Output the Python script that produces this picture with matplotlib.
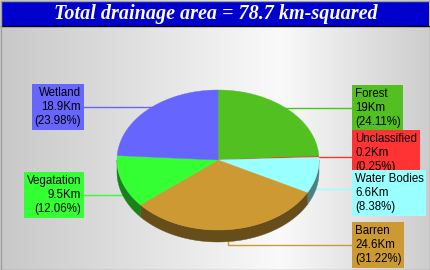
import numpy as np
import matplotlib.pyplot as plt
from matplotlib.patches import Polygon, Rectangle

# data
names = ["Forest", "Unclassified", "Water Bodies", "Barren", "Vegatation", "Wetland"]
values = [19, 0.2, 6.6, 24.6, 9.5, 18.9]
colors = ["#52c021", "#ff3333", "#99ffff", "#cc9933", "#33ff33", "#6666ff"]
title = "Total drainage area = 78.7 km-squared"

# layout (pixel coords)
W, H = 430, 270
cx, cy, rx, ry, depth = 218, 160, 101, 70, 12
# box anchor (x, center y), side, connector y
label_pos = {
    "Forest": (355, 108, "r", 108),
    "Unclassified": (355, 153, "r", 157),
    "Water Bodies": (355, 193, "r", 189),
    "Barren": (355, 245, "r", 245),
    "Vegatation": (81, 195, "l", 195),
    "Wetland": (81, 107, "l", 107),
}

fig = plt.figure(figsize=(W / 100, H / 100), dpi=100)
ax = fig.add_axes([0, 0, 1, 1])
ax.set_xlim(0, W)
ax.set_ylim(H, 0)
ax.axis("off")

# background gradient
xs = np.linspace(0, W, 431)
g = np.interp(xs, [0, 280, W], [200, 250, 205]) / 255.0
img = np.tile(g, (2, 1))
ax.imshow(np.dstack([img, img, img]), extent=(0, W, H, 0), aspect="auto", zorder=0)
ax.add_patch(Rectangle((0.5, 0.5), W - 1, H - 1, fill=False, ec="#a0a0a0", lw=1, zorder=10))

# title bar
ax.add_patch(Rectangle((1, 1), W - 2, 24.5, fc="#0000cc", ec="none", zorder=5))
ax.plot([1, W - 1], [25.5, 25.5], color="black", lw=1, zorder=6)
ax.text(W / 2 + 1, 13.5, title, color="white", fontsize=14.5, fontweight="bold",
        fontstyle="italic", family="Liberation Serif", ha="center", va="center", zorder=7)

total = sum(values)
cum = np.cumsum([0] + values)
starts = 90 - cum[:-1] / total * 360
ends = 90 - cum[1:] / total * 360


def pt(a, dy=0):
    r = np.radians(a)
    return cx + rx * np.cos(r), cy - ry * np.sin(r) + dy


# sides (front half)
for a0, a1, c in zip(starts, ends, colors):
    side = tuple(v * 0.5 for v in plt.matplotlib.colors.to_rgb(c))
    for lo, hi in [(-180, 0), (-540, -360)]:
        s, e = max(a1, lo), min(a0, hi)
        if e <= s:
            continue
        t = np.linspace(e, s, 60)
        x, y = pt(t)
        poly = np.vstack([np.column_stack([x, y]), np.column_stack([x, y + depth])[::-1]])
        ax.add_patch(Polygon(poly, fc=side, ec=side, lw=0.3, zorder=3))

# tops
for a0, a1, c in zip(starts, ends, colors):
    t = np.linspace(a0, a1, max(int(abs(a0 - a1)), 2) + 1)
    x, y = pt(t)
    poly = np.vstack([[cx, cy], np.column_stack([x, y])])
    ax.add_patch(Polygon(poly, fc=c, ec=c, lw=0.3, zorder=4))

# labels and connectors
for n, v, c, a0, a1 in zip(names, values, colors, starts, ends):
    bx, by, side, ly = label_pos[n]
    mid = (a0 + a1) / 2
    mx, my = pt(mid, depth if np.sin(np.radians(mid)) < 0 else 0)
    edge = bx - 2 if side == "r" else bx + 2
    xe = mx if abs(mx - cx) < rx / 2 else cx
    ax.plot([edge, xe, xe], [ly, ly, my], color=c, lw=1, zorder=2)
    txt = f"{n}\n{v:g}Km\n({v / total * 100:.2f}%)"
    ax.text(bx, by, txt, fontsize=8.3, family="Liberation Sans", color="black",
            ha="left" if side == "r" else "right", va="center",
            multialignment="left" if side == "r" else "right", linespacing=1.22,
            bbox=dict(boxstyle="square,pad=0.22", fc=c, ec="none"), zorder=8)

fig.savefig("out.png", dpi=100)
